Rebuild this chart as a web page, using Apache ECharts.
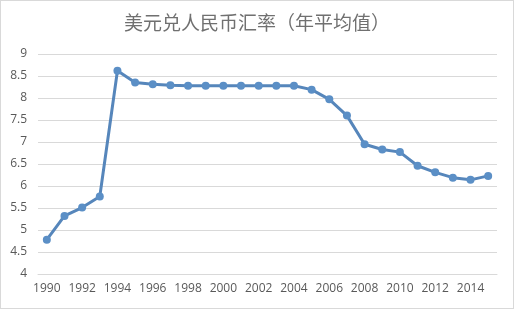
<!DOCTYPE html>
<html><head><meta charset="utf-8">
<script src="https://cdn.jsdelivr.net/npm/echarts@6/dist/echarts.min.js"></script>
<style>html,body{margin:0;padding:0;background:#fff}#c{width:512px;height:307px;border:1px solid #d9d9d9}</style>
</head><body><div id="c"></div>
<script>
const years = ['1990','1991','1992','1993','1994','1995','1996','1997','1998','1999','2000','2001','2002','2003','2004','2005','2006','2007','2008','2009','2010','2011','2012','2013','2014','2015'];
const rates = [4.78,5.32,5.51,5.76,8.62,8.35,8.31,8.29,8.28,8.28,8.28,8.28,8.28,8.28,8.28,8.19,7.97,7.60,6.95,6.83,6.77,6.46,6.31,6.19,6.14,6.23];
const titleText = '美元兑人民币汇率（年平均值）';
const chart = echarts.init(document.getElementById('c'));
chart.setOption({
  animation:false,
  title:{text:titleText,left:'center',top:7,textStyle:{fontFamily:'Noto Sans CJK SC',fontSize:19,fontWeight:'normal',color:'#707070'}},
  grid:{left:37,right:16,top:53,bottom:34},
  xAxis:{type:'category',data:years,boundaryGap:true,
    axisLine:{lineStyle:{color:'#d9d9d9'}},axisTick:{show:false},
    axisLabel:{interval:1,color:'#595959',fontSize:12,fontFamily:'Open Sans',margin:9}},
  yAxis:{type:'value',min:4,max:9,interval:0.5,
    axisLine:{show:false},axisTick:{show:false},
    splitLine:{lineStyle:{color:'#d9d9d9',width:1}},
    axisLabel:{color:'#595959',fontSize:12,fontFamily:'Open Sans',margin:11}},
  series:[{type:'line',data:rates,smooth:false,symbol:'circle',symbolSize:8,
    lineStyle:{color:'#5686bb',width:3},itemStyle:{color:'#5b8fc6'}}]
});
</script></body></html>
